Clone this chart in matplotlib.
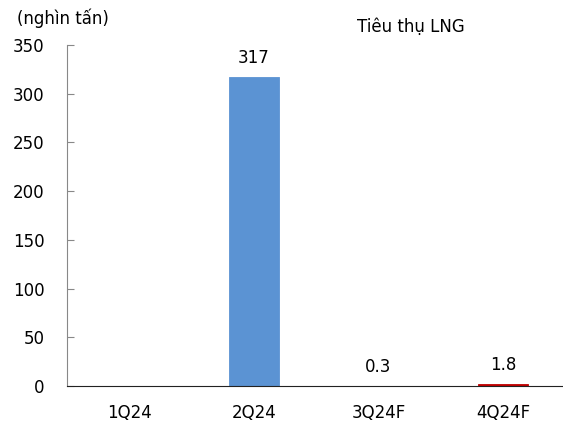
import matplotlib.pyplot as plt

quarters = ['1Q24', '2Q24', '3Q24F', '4Q24F']
lng = [0, 317, 0.3, 1.8]
labels = ['', '317', '0.3', '1.8']
colors = ['#5B93D3', '#5B93D3', '#C00000', '#C00000']

fig = plt.figure(figsize=(5.63, 4.23), dpi=100)
ax = fig.add_axes([0.119, 0.0875, 0.885, 0.8065])

x = range(len(quarters))
ax.bar(x, lng, width=0.4, color=colors, edgecolor=colors, linewidth=0.6)
for i, (v, t) in enumerate(zip(lng, labels)):
    if t:
        ax.text(i, v + 10, t, ha='center', va='bottom', fontsize=12)

ax.set_xlim(-0.5, 3.5)
ax.set_ylim(0, 350)
ax.set_yticks(range(0, 351, 50))
ax.set_xticks(list(x))
ax.set_xticklabels(quarters, fontsize=12)
ax.tick_params(axis='y', direction='in', length=5, color='#888888', labelsize=12, pad=16)
ax.tick_params(axis='x', length=0, pad=13)
ax.spines['top'].set_visible(False)
ax.spines['right'].set_visible(False)
ax.spines['left'].set_color('#888888')
ax.spines['bottom'].set_color('#222222')

fig.text(0.03, 0.958, '(nghìn tấn)', fontsize=12, va='center')
fig.text(0.730, 0.936, 'Tiêu thụ LNG', fontsize=12, ha='center', va='center')

fig.savefig('out.png', dpi=100)
